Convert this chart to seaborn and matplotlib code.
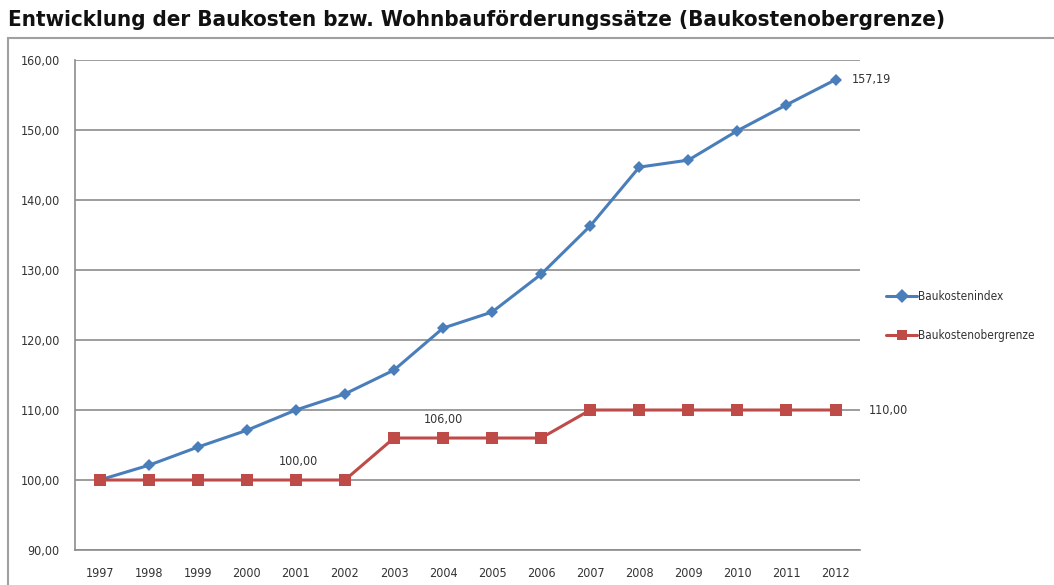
import matplotlib
matplotlib.use("Agg")
import matplotlib.pyplot as plt
from matplotlib.patches import Rectangle
from matplotlib.ticker import FuncFormatter
import seaborn as sns
import pandas as pd

years = list(range(1997, 2013))
baukostenindex = [100.0, 102.1, 104.7, 107.1, 110.0, 112.3, 115.7, 121.7,
                  124.0, 129.4, 136.3, 144.7, 145.7, 149.9, 153.6, 157.19]
baukostenobergrenze = [100.0, 100.0, 100.0, 100.0, 100.0, 100.0, 106.0, 106.0,
                       106.0, 106.0, 110.0, 110.0, 110.0, 110.0, 110.0, 110.0]
series_names = ["Baukostenindex", "Baukostenobergrenze"]
y_ticks = [90, 100, 110, 120, 130, 140, 150, 160]

df = pd.DataFrame({
    "Jahr": years * 2,
    "Wert": baukostenindex + baukostenobergrenze,
    "Reihe": [series_names[0]] * len(years) + [series_names[1]] * len(years),
})

sns.set_style("white")
plt.rcParams["font.family"] = ["DejaVu Sans"]

fig = plt.figure(figsize=(10.54, 5.85), dpi=100)
ax = fig.add_axes([0.0712, 0.0598, 0.7448, 0.8376])

palette = {series_names[0]: "#4A7EBB", series_names[1]: "#BE4B48"}
sns.lineplot(data=df, x="Jahr", y="Wert", hue="Reihe", style="Reihe",
             markers={series_names[0]: "D", series_names[1]: "s"},
             dashes=False, palette=palette, linewidth=2.2,
             markersize=8, markeredgewidth=0, ax=ax)
# diamonds a bit smaller than squares
ax.lines[0].set_markersize(6.5)

ax.set_xlim(years[0] - 0.5, years[-1] + 0.5)
ax.set_ylim(y_ticks[0], y_ticks[-1])
ax.set_xticks(years)
ax.set_yticks(y_ticks)
ax.yaxis.set_major_formatter(FuncFormatter(lambda v, p: f"{v:.2f}".replace(".", ",")))
ax.set_xlabel("")
ax.set_ylabel("")
ax.grid(axis="y", color="#8c8c8c", linewidth=1.2)
ax.set_axisbelow(True)
for s in ["top", "right"]:
    ax.spines[s].set_visible(False)
for s in ["left", "bottom"]:
    ax.spines[s].set_color("#8c8c8c")
    ax.spines[s].set_linewidth(1.2)
ax.tick_params(axis="y", length=5, color="#8c8c8c", labelsize=9, pad=6,
               labelcolor="#333333")
ax.tick_params(axis="x", length=0, labelsize=9, pad=12, labelcolor="#333333")
for lab in ax.get_xticklabels() + ax.get_yticklabels():
    lab.set_fontstretch("condensed")

def fmt(v):
    return f"{v:.2f}".replace(".", ",")

ann_kw = dict(fontsize=9, color="#333333", fontstretch="condensed")
ax.annotate(fmt(baukostenindex[-1]), (years[-1], baukostenindex[-1]),
            xytext=(12, 0), textcoords="offset points", va="center", **ann_kw)
ax.annotate(fmt(baukostenobergrenze[-1]), (years[-1], baukostenobergrenze[-1]),
            xytext=(24, 0), textcoords="offset points", va="center", **ann_kw)
ax.annotate(fmt(baukostenobergrenze[4]), (years[4], baukostenobergrenze[4]),
            xytext=(2, 13), textcoords="offset points", ha="center", va="center", **ann_kw)
ax.annotate(fmt(baukostenobergrenze[7]), (years[7], baukostenobergrenze[7]),
            xytext=(0, 13), textcoords="offset points", ha="center", va="center", **ann_kw)

leg = ax.legend(loc="center left", bbox_to_anchor=(1.02, 0.478), frameon=False,
                fontsize=8.5, handlelength=2.6, labelspacing=2.2, handletextpad=0.1,
                markerscale=0.85)
for t in leg.get_texts():
    t.set_fontstretch("condensed")
    t.set_color("#333333")

fig.add_artist(Rectangle((8 / 1054, -0.01), 1.0, 1 - 38 / 585 + 0.01,
                         transform=fig.transFigure, fill=False,
                         edgecolor="#a0a0a0", linewidth=1.5))
fig.text(8 / 1054, 1 - 20 / 585, "Entwicklung der Baukosten bzw. Wohnbauförderungssätze (Baukostenobergrenze)",
         fontsize=16.0, fontweight="bold", fontstretch="condensed", va="center", ha="left",
         color="#111111")

fig.savefig("out.png", dpi=100)
